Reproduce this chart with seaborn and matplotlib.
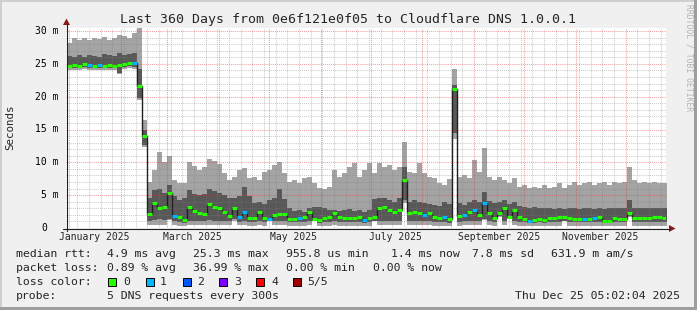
import numpy as np
import pandas as pd
import matplotlib
matplotlib.use("Agg")
import matplotlib.pyplot as plt
import matplotlib.dates as mdates
import matplotlib.ticker as mticker
from matplotlib.patches import Rectangle, Polygon
from matplotlib.lines import Line2D
import seaborn as sns

# ---------------- data (milliseconds, one value per 3-day bin) ----------------
first_bin = "2024-12-30 17:00"
bin_days = 3

ping_min = [24.1, 24.1, 24.1, 24.2, 24.1, 24.0, 24.1, 24.1, 24.1, 24.0, 23.4, 24.2, 24.3, 24.2,
            19.5, 12.4,
            0.4, 0.4, 0.5, 0.4, 1.2, 0.4, 0.3, 0.3, 0.4, 0.4,
            0.4, 0.4, 0.5, 0.4, 0.4, 0.4, 0.4, 1.1, 0.4, 0.4,
            0.3, 0.3, 0.4, 0.3, 1.1, 0.4, 0.4, 0.4, 0.3, 0.3,
            0.3, 0.3, 0.4, 1.0, 0.3, 0.3, 0.3, 0.4, 0.3, 0.3,
            0.3, 0.3, 0.3, 0.3, 0.3, 1.0, 0.4, 0.4, 0.4, 0.4,
            0.4, 3.8, 0.4, 0.4, 0.4, 0.4, 0.4, 0.3, 0.3, 0.3,
            0.3, 13.5, 0.3, 0.4, 0.4, 0.4, 0.4, 1.2, 0.4, 0.3,
            1.7, 0.4, 1.4, 0.4, 0.3, 0.3, 0.3, 0.3, 0.3, 0.3,
            0.3, 0.3, 0.3, 1.0, 0.3, 0.3, 0.3, 0.3, 0.3, 0.3,
            0.3, 0.3, 0.3, 0.3, 0.3, 0.3, 1.6, 0.3, 0.3, 0.3,
            0.3, 0.3, 0.3, 0.3]

ping_lo = [24.4, 24.4, 24.4, 24.5, 24.4, 24.3, 24.4, 24.4, 24.4, 24.3, 23.6, 24.5, 24.6, 24.5,
           19.8, 12.6,
           1.1, 1.2, 1.3, 1.2, 1.4, 1.0, 0.9, 0.8, 1.1, 1.0,
           1.0, 1.0, 1.2, 1.1, 1.1, 1.0, 1.0, 1.3, 0.9, 1.0,
           0.9, 0.9, 1.0, 0.9, 1.2, 1.0, 1.0, 1.0, 0.9, 0.9,
           0.9, 0.9, 1.0, 1.1, 0.8, 0.9, 0.9, 1.0, 0.9, 0.9,
           0.9, 0.9, 0.9, 0.8, 0.9, 1.1, 1.1, 1.1, 1.0, 1.0,
           1.0, 4.3, 1.0, 1.0, 1.0, 1.0, 1.0, 0.9, 0.9, 0.9,
           0.8, 14.5, 0.9, 1.0, 1.0, 1.0, 1.0, 1.4, 1.0, 0.9,
           1.9, 1.0, 1.5, 1.0, 0.9, 0.9, 0.8, 0.8, 0.9, 0.8,
           0.9, 0.9, 0.9, 1.1, 0.9, 0.9, 0.9, 0.9, 0.9, 0.9,
           0.9, 0.8, 0.8, 0.9, 0.9, 0.9, 1.8, 0.9, 0.9, 0.9,
           0.9, 0.9, 0.9, 0.9]

median_rtt = [24.7, 24.8, 24.7, 24.9, 24.8, 24.6, 24.8, 24.7, 24.8, 24.6, 24.8, 25.0, 25.2, 25.1,
              21.6, 14.0,
              2.2, 3.8, 3.0, 3.2, 5.3, 1.9, 1.7, 1.2, 3.2, 2.6,
              2.3, 2.2, 3.6, 3.2, 3.0, 2.4, 1.9, 3.0, 1.6, 2.4,
              1.5, 1.5, 2.4, 1.5, 1.3, 2.0, 2.1, 2.2, 1.4, 1.4,
              1.5, 1.7, 2.4, 1.3, 1.2, 1.5, 1.7, 2.3, 1.7, 1.5,
              1.5, 1.5, 1.7, 1.2, 1.5, 1.6, 3.0, 3.2, 2.7, 2.4,
              2.8, 7.3, 2.3, 2.4, 2.3, 2.0, 2.3, 1.6, 1.5, 1.7,
              1.3, 21.2, 1.8, 2.0, 2.4, 2.7, 2.0, 3.8, 2.3, 1.5,
              2.3, 3.0, 1.6, 2.7, 1.7, 1.4, 1.1, 1.2, 1.4, 1.2,
              1.5, 1.5, 1.6, 1.7, 1.5, 1.4, 1.3, 1.3, 1.3, 1.5,
              1.6, 1.1, 1.1, 1.5, 1.3, 1.3, 2.3, 1.5, 1.5, 1.5,
              1.5, 1.7, 1.6, 1.5]

ping_hi = [26.2, 26.0, 26.3, 26.1, 26.4, 26.2, 26.1, 26.5, 26.3, 26.2, 26.6, 26.4, 26.5, 26.6,
           24.2, 15.0,
           4.5, 5.8, 6.0, 5.4, 6.5, 4.8, 4.2, 4.5, 5.8, 5.2,
           5.0, 5.2, 6.0, 5.6, 5.4, 5.0, 4.6, 4.5, 4.8, 6.2,
           4.8, 3.8, 4.0, 3.6, 4.3, 4.6, 6.0, 4.4, 3.0, 2.6,
           2.8, 2.5, 3.0, 3.2, 3.2, 3.0, 2.8, 2.8, 2.6, 2.7,
           2.9, 2.6, 2.8, 2.5, 2.7, 4.4, 4.6, 4.5, 4.2, 4.0,
           4.6, 9.3, 4.0, 4.3, 4.0, 3.8, 3.6, 3.5, 3.4, 4.0,
           3.6, 21.8, 3.8, 3.5, 3.9, 4.2, 4.0, 5.5, 4.1, 3.8,
           3.9, 4.2, 3.7, 3.9, 3.3, 3.2, 3.1, 3.2, 3.0, 3.1,
           3.0, 2.9, 3.0, 2.9, 3.0, 3.0, 2.9, 3.0, 3.0, 2.9,
           3.0, 2.9, 3.0, 3.0, 3.0, 3.0, 4.3, 3.0, 3.0, 3.0,
           3.0, 3.0, 3.0, 3.0]

ping_max = [28.2, 28.9, 28.6, 29.0, 28.7, 29.0, 28.8, 29.1, 28.6, 28.9, 29.4, 29.3, 29.0, 29.7,
            30.4, 16.5,
            7.0, 8.8, 11.5, 10.0, 11.0, 7.3, 6.8, 6.8, 10.0, 9.5,
            8.8, 9.3, 10.5, 10.2, 9.8, 8.4, 7.3, 7.8, 8.8, 9.1,
            7.6, 7.8, 7.3, 8.5, 8.8, 9.6, 10.0, 8.4, 7.0, 7.3,
            6.8, 7.6, 7.8, 6.8, 6.1, 6.0, 6.2, 8.8, 7.8, 8.4,
            9.3, 9.9, 7.8, 8.8, 9.9, 8.4, 9.9, 9.3, 9.6, 8.8,
            9.3, 13.1, 8.5, 8.4, 9.9, 8.4, 7.8, 7.6, 6.8, 6.6,
            7.5, 24.2, 7.8, 8.1, 7.6, 10.4, 8.5, 12.2, 7.8, 7.3,
            7.8, 7.3, 6.8, 7.6, 6.2, 6.6, 6.1, 6.2, 6.1, 6.6,
            6.1, 6.2, 6.8, 6.1, 6.6, 7.0, 6.6, 6.8, 7.0, 6.6,
            6.8, 7.0, 6.6, 7.0, 6.8, 7.0, 9.3, 7.3, 6.8, 7.0,
            6.8, 7.0, 6.8, 6.8]

loss_count = [0, 0, 0, 0, 1, 0, 1, 0, 0, 0, 0, 0, 0, 1,
              0, 0,
              0, 0, 0, 0, 0, 1, 0, 0, 0, 0,
              0, 0, 0, 0, 0, 0, 0, 0, 1, 1,
              0, 0, 0, 0, 1, 0, 0, 0, 0, 0,
              1, 0, 0, 0, 0, 0, 0, 0, 0, 0,
              0, 0, 0, 1, 0, 0, 0, 0, 0, 0,
              0, 0, 0, 0, 0, 1, 0, 0, 0, 1,
              0, 0, 0, 1, 0, 1, 0, 1, 0, 0,
              0, 0, 0, 0, 0, 0, 1, 0, 0, 0,
              0, 0, 0, 0, 0, 0, 0, 1, 0, 1,
              0, 0, 0, 0, 0, 0, 0, 0, 0, 0,
              0, 0, 0, 0]

loss_levels = [0, 1, 2, 3, 4, 5]
loss_labels = ["0", "1", "2", "3", "4", "5/5"]
loss_palette = ["#26ff00", "#00b8ff", "#0059ff", "#7e00ff", "#ff0000", "#a00000"]

y_ticks = [0, 5, 10, 15, 20, 25, 30]
y_tick_labels = ["0", "5 m", "10 m", "15 m", "20 m", "25 m", "30 m"]
month_labels = ["January 2025", "March 2025", "May 2025", "July 2025",
                "September 2025", "November 2025"]
month_label_dates = ["2025-01-16", "2025-03-16", "2025-05-16", "2025-07-16",
                     "2025-09-16", "2025-11-16"]
graph_end = "2025-12-25 05:02:04"
span_days = 360

title = "Last 360 Days from 0e6f121e0f05 to Cloudflare DNS 1.0.0.1"
y_title = "Seconds"
rtt_texts = ["median rtt:", "4.9 ms avg", "25.3 ms max", "955.8 us min",
             "1.4 ms now", "7.8 ms sd", "631.9 m am/s"]
loss_texts = ["packet loss:", "0.89 % avg", "36.99 % max", "0.00 % min", "0.00 % now"]
loss_color_title = "loss color:"
probe_texts = ["probe:", "5 DNS requests every 300s"]
timestamp = "Thu Dec 25 05:02:04 2025"
credit = "RRDTOOL / TOBI OETIKER"

# ---------------- layout (pixels) ----------------
W, H = 697, 310
AX_L, AX_R, AX_B, AX_T = 66, 666, 228, 28
px_per_ms = 197 / 30.0
rtt_x = [16, 107, 193, 286, 391, 472, 551]
loss_x = [16, 107, 193, 286, 373]
probe_x = [16, 107]
row_y = [254, 268, 282, 296]
box_x = [108, 146, 183, 219, 256, 293]
box_lab_x = [123, 160, 197, 234, 271, 307]

sns.set_style("white")
plt.rcParams["font.family"] = ["DejaVu Sans Mono", "DejaVu Sans"]

fig = plt.figure(figsize=(W / 100, H / 100), dpi=100, facecolor="#f0f0f0")
ax = fig.add_axes([AX_L / W, (H - AX_B) / H, (AX_R - AX_L) / W, (AX_B - AX_T) / H])
ax.set_facecolor("white")

t_end = pd.Timestamp(graph_end)
t_start = t_end - pd.Timedelta(days=span_days)
ax.set_xlim(t_start, t_end)
ax.set_ylim(0, (AX_B - AX_T) / px_per_ms)

edges = pd.date_range(first_bin, periods=len(median_rtt) + 1, freq=f"{bin_days}D")


def ext(a):
    a = np.asarray(a, dtype=float)
    return np.append(a, a[-1])


# smoke
ax.fill_between(edges, ext(ping_min), ext(ping_max), step="post",
                color="#a4a4a4", lw=0, zorder=1)
ax.fill_between(edges, ext(ping_lo), ext(ping_hi), step="post",
                color="#585858", lw=0, zorder=1.1)

# median line
df = pd.DataFrame({"t": edges, "median": ext(median_rtt)})
sns.lineplot(data=df, x="t", y="median", drawstyle="steps-post", color="#202020",
             lw=1, ax=ax, zorder=3, legend=False)

# loss coloured median blocks
med = np.asarray(median_rtt)
lc = np.asarray(loss_count)
e_num = mdates.date2num(edges)
for lev, col in zip(loss_levels, loss_palette):
    m = lc == lev
    if m.any():
        ax.hlines(med[m], e_num[:-1][m], e_num[1:][m], colors=col, lw=2.2, zorder=4)

ax.set_xlabel("")
ax.set_ylabel("")

# grid
ax.xaxis.set_major_locator(mdates.MonthLocator())
ax.xaxis.set_minor_locator(mdates.WeekdayLocator(byweekday=mdates.MO))
ax.yaxis.set_major_locator(mticker.FixedLocator(y_ticks))
ax.yaxis.set_minor_locator(mticker.MultipleLocator(1))
ax.set_axisbelow(False)
ax.grid(which="major", color="#de3030", alpha=0.45, lw=0.75, ls=(0, (1, 1)))
ax.grid(which="minor", color="#808080", alpha=0.4, lw=0.75, ls=(0, (1, 1)))
ax.tick_params(axis="both", which="major", length=2.2, width=0.75, color="#e06060",
               direction="out", labelbottom=False, labelleft=False)
ax.tick_params(axis="both", which="minor", length=0)
for s in ax.spines.values():
    s.set_visible(False)


def fx(x):
    return x / W


def fy(y):
    return 1 - y / H


# axis lines + arrows
fig.add_artist(Line2D([fx(AX_L + 0.5), fx(AX_L + 0.5)], [fy(AX_B + 3), fy(24)],
                      color="#202020", lw=0.8, transform=fig.transFigure))
fig.add_artist(Line2D([fx(AX_L - 3), fx(670)], [fy(AX_B + 0.5), fy(AX_B + 0.5)],
                      color="#202020", lw=0.8, transform=fig.transFigure))
fig.add_artist(Polygon([[fx(AX_L + 0.5), fy(18.5)], [fx(AX_L - 3), fy(25)], [fx(AX_L + 4), fy(25)]],
                       closed=True, color="#8b1a1a", lw=0, transform=fig.transFigure))
fig.add_artist(Polygon([[fx(675.5), fy(AX_B + 0.5)], [fx(669), fy(AX_B - 3)], [fx(669), fy(AX_B + 4)]],
                       closed=True, color="#8b1a1a", lw=0, transform=fig.transFigure))

# frame shading
fig.add_artist(Rectangle((0, 1 - 2 / H), 1, 2 / H, color="#cfcfcf", lw=0, transform=fig.transFigure))
fig.add_artist(Rectangle((0, 0), 2 / W, 1, color="#cfcfcf", lw=0, transform=fig.transFigure))
fig.add_artist(Rectangle((0, 0), 1, 3 / H, color="#9e9e9e", lw=0, transform=fig.transFigure))
fig.add_artist(Rectangle((1 - 3 / W, 0), 3 / W, 1, color="#9e9e9e", lw=0, transform=fig.transFigure))

# texts
fig.canvas.draw()
axfs = 7.0
charw = 5.85
for v, lab in zip(y_ticks, y_tick_labels):
    ypix = ax.transData.transform((0, v))[1]
    xr = 58.5 if " " in lab else 58.5 - 2 * charw
    fig.text(fx(xr), ypix / H, lab, ha="right", va="center", fontsize=axfs, color="black")

for d, lab in zip(month_label_dates, month_labels):
    xpix = ax.transData.transform((mdates.date2num(pd.Timestamp(d)), 0))[0]
    fig.text(xpix / W, fy(237.5), lab, ha="center", va="center", fontsize=axfs)

fig.text(fx(347.5), fy(19), title, ha="center", va="center", fontsize=9.5)
fig.text(fx(10), fy(127), y_title, ha="center", va="center", rotation=90, fontsize=7.8)
fig.text(fx(688.5), fy(58), credit, ha="center", va="center", rotation=270,
         fontsize=5.8, color="#b4b4b4")

lfs = 8.25
for s, x in zip(rtt_texts, rtt_x):
    fig.text(fx(x), fy(row_y[0]), s, ha="left", va="center", fontsize=lfs)
for s, x in zip(loss_texts, loss_x):
    fig.text(fx(x), fy(row_y[1]), s, ha="left", va="center", fontsize=lfs)
fig.text(fx(16), fy(row_y[2]), loss_color_title, ha="left", va="center", fontsize=lfs)
for bx, lx, col, lab in zip(box_x, box_lab_x, loss_palette, loss_labels):
    fig.add_artist(Rectangle((fx(bx), fy(row_y[2] + 4)), 8 / W, 8 / H, facecolor=col,
                             edgecolor="black", lw=0.7, transform=fig.transFigure))
    fig.text(fx(lx), fy(row_y[2]), lab, ha="left", va="center", fontsize=lfs)
for s, x in zip(probe_texts, probe_x):
    fig.text(fx(x), fy(row_y[3]), s, ha="left", va="center", fontsize=lfs)
fig.text(fx(680), fy(row_y[3]), timestamp, ha="right", va="center", fontsize=lfs)

fig.savefig("out.png", dpi=100, facecolor=fig.get_facecolor())
